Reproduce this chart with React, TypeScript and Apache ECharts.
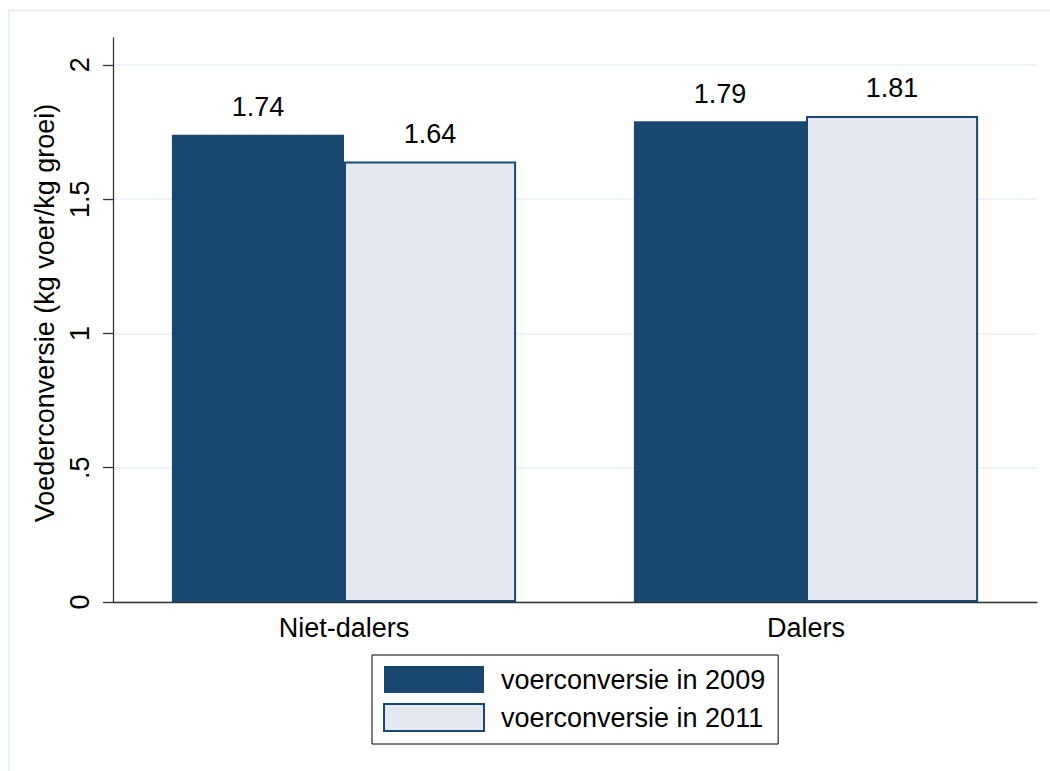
import React, { useEffect, useRef } from "react";
import * as echarts from "echarts";

const categories = ["Niet-dalers", "Dalers"];
const values2009 = [1.74, 1.79];
const values2011 = [1.64, 1.81];
const seriesNames = ["voerconversie in 2009", "voerconversie in 2011"];
const yTicks = [0, 0.5, 1, 1.5, 2];
const yTitle = "Voederconversie (kg voer/kg groei)";

const DARK = "#1a476f";
const LIGHT = "#e4e8f0";
const FONT = "Liberation Sans, Arial, sans-serif";
const FS = 27;

export default function App() {
  const ref = useRef<HTMLDivElement>(null);
  useEffect(() => {
    if (!ref.current) return;
    const chart = echarts.init(ref.current, undefined, { renderer: "svg" });
    const fmt = (v: number) => {
      if (v === 0) return "0";
      return String(v).replace(/^0\./, ".");
    };
    chart.setOption({
      animation: false,
      backgroundColor: "#ffffff",
      textStyle: { fontFamily: FONT },
      graphic: [
        {
          type: "rect",
          z: -10,
          silent: true,
          shape: { x: 8.5, y: 10.5, width: 1100, height: 800 },
          style: { fill: "none", stroke: "#e4edf1", lineWidth: 1.5 },
        },
      ],
      grid: { left: 113, right: 13, top: 38, bottom: 169, containLabel: false },
      legend: {
        orient: "vertical",
        left: 372,
        top: 655,
        padding: [11, 13, 12, 11],
        itemWidth: 100,
        itemHeight: 27,
        itemGap: 10,
        icon: "rect",
        borderColor: "#000",
        borderWidth: 1,
        borderRadius: 0,
        selectedMode: false,
        textStyle: { fontSize: FS, color: "#000", fontFamily: FONT, padding: [0, 0, 0, 12] },
        data: seriesNames,
      },
      xAxis: {
        type: "category",
        data: categories,
        axisLine: { lineStyle: { color: "#333", width: 1.3 } },
        axisTick: { show: false },
        axisLabel: { fontSize: FS, color: "#000", margin: 12, fontFamily: FONT },
        splitLine: { show: false },
      },
      yAxis: {
        type: "value",
        min: 0,
        max: 2.1,
        interval: 0.5,
        name: yTitle,
        nameLocation: "middle",
        nameRotate: 90,
        nameGap: 49,
        nameTextStyle: { fontSize: FS, color: "#000", fontFamily: FONT, padding: [0, 0, 0, 14] },
        axisLine: { show: true, lineStyle: { color: "#333", width: 1.3 } },
        axisTick: { show: true, length: 10, lineStyle: { color: "#333", width: 1.3 }, customValues: yTicks },
        axisLabel: {
          rotate: 90,
          fontSize: FS,
          color: "#000",
          margin: 20,
          fontFamily: FONT,
          customValues: yTicks,
          formatter: fmt,
        },
        splitLine: { show: true, lineStyle: { color: "#e8eff2", width: 1.5 } },
      },
      series: [
        {
          name: seriesNames[0],
          type: "bar",
          data: values2009,
          barGap: "0%",
          barCategoryGap: "25.5%",
          itemStyle: { color: DARK, borderColor: DARK, borderWidth: 0 },
          label: {
            show: true,
            position: "top",
            distance: 14,
            fontSize: FS,
            color: "#000",
            fontFamily: FONT,
            formatter: (p: any) => p.value.toFixed(2),
          },
        },
        {
          name: seriesNames[1],
          type: "bar",
          data: values2011,
          barGap: "0%",
          barCategoryGap: "25.5%",
          itemStyle: { color: LIGHT, borderColor: DARK, borderWidth: 2 },
          label: {
            show: true,
            position: "top",
            distance: 14,
            fontSize: FS,
            color: "#000",
            fontFamily: FONT,
            formatter: (p: any) => p.value.toFixed(2),
          },
        },
      ],
    });
    return () => chart.dispose();
  }, []);
  return (
    <div
      ref={ref}
      style={{ position: "fixed", left: 0, top: 0, width: 1050, height: 771, background: "#fff" }}
    />
  );
}
